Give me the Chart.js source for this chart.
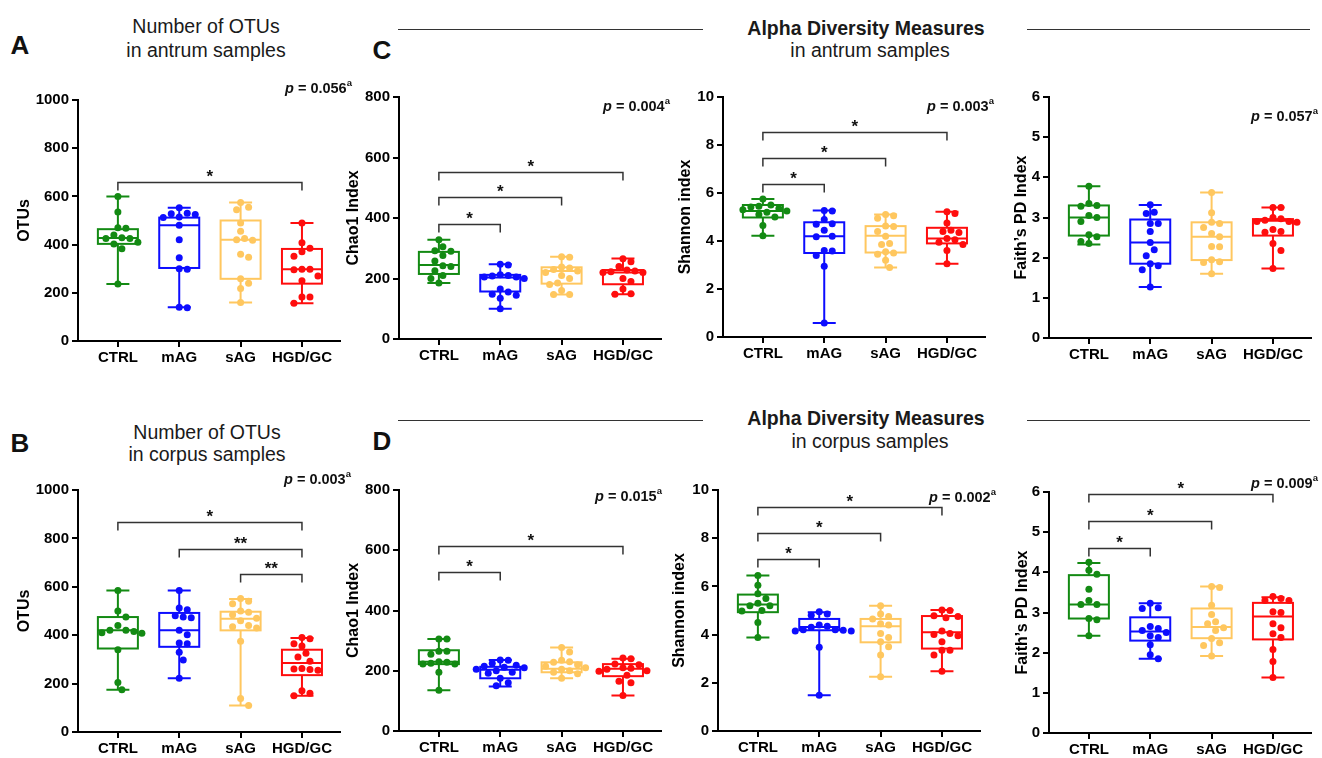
<!DOCTYPE html>
<html>
<head>
<meta charset="utf-8">
<script src="https://cdn.jsdelivr.net/npm/chart.js@4.4.1/dist/chart.umd.min.js"></script>
<style>
  body { margin: 0; background: #fff; width: 1322px; height: 758px; position: relative; overflow: hidden;
         font-family: "Liberation Sans", Arial, sans-serif; color: #1a1a1a; }
  canvas { position: absolute; }
  .t { position: absolute; transform: translate(-50%, -50%); white-space: nowrap; }
  .ttl { font-size: 19.5px; }
  .hdr { font-size: 19.5px; font-weight: bold; }
  .let { font-size: 26px; font-weight: bold; color: #111; }
  .pv { position: absolute; transform: translateY(-50%); font-size: 14.5px; font-weight: bold; color: #111; white-space: nowrap; }
  .pv sup { font-size: 9.5px; position: relative; top: -1px; }
  .rule { position: absolute; height: 1px; background: #333; }
</style>
</head>
<body>
<script>
var FONT = '"Liberation Sans", Arial, sans-serif';

var groups = ['CTRL', 'mAG', 'sAG', 'HGD/GC'];
var groupColors = ['#138a13', '#0d0dff', '#ffc75f', '#ff0d0d'];

// box stats per group: min, q1, median, q3, max

// number of OTUs - antrum
var otuAntrumPts = [
  [600, 535, 470, 468, 440, 428, 425, 425, 410, 402, 383, 237],
  [553, 530, 528, 525, 515, 512, 480, 420, 345, 300, 298, 140, 138],
  [575, 555, 545, 490, 455, 425, 420, 418, 360, 348, 258, 240, 218, 160],
  [490, 408, 385, 370, 352, 298, 298, 296, 270, 250, 183, 183, 157]
];
var otuAntrumBox = [[237, 403, 427, 464, 600], [140, 303, 480, 512, 553], [160, 258, 420, 500, 575], [157, 238, 298, 382, 490]];
var otuAntrumSig = [[0, 3, 660, '*']];

// Chao1 - antrum
var chaoAntrumPts = [
  [328, 305, 292, 290, 276, 258, 242, 240, 226, 210, 200, 185],
  [247, 245, 212, 210, 208, 205, 205, 200, 165, 155, 148, 145, 135, 100],
  [272, 270, 238, 235, 230, 225, 220, 210, 200, 185, 180, 160, 147, 147],
  [265, 255, 240, 228, 225, 222, 220, 220, 200, 190, 165, 150, 148]
];
var chaoAntrumBox = [[185, 215, 245, 288, 328], [100, 157, 203, 212, 247], [147, 183, 225, 237, 272], [148, 181, 220, 228, 266]];
var chaoAntrumSig = [[0, 1, 380, '*'], [0, 2, 470, '*'], [0, 3, 553, '*']];

// Shannon - antrum
var shanAntrumPts = [
  [5.75, 5.5, 5.45, 5.42, 5.35, 5.3, 5.25, 5.2, 5.1, 5.0, 4.65, 4.22],
  [5.27, 5.25, 4.9, 4.72, 4.7, 4.45, 4.2, 4.18, 3.6, 3.58, 3.4, 2.95, 0.58],
  [5.1, 5.05, 4.95, 4.62, 4.6, 4.4, 4.2, 3.9, 3.85, 3.55, 3.5, 3.45, 3.2, 2.9],
  [5.22, 5.15, 4.75, 4.45, 4.4, 4.35, 4.1, 4.05, 3.95, 3.85, 3.6, 3.05]
];
var shanAntrumBox = [[4.22, 4.98, 5.25, 5.5, 5.75], [0.58, 3.5, 4.2, 4.78, 5.27], [2.9, 3.52, 4.22, 4.62, 5.1], [3.05, 3.9, 4.1, 4.55, 5.22]];
var shanAntrumSig = [[0, 1, 6.38, '*'], [0, 2, 7.45, '*'], [0, 3, 8.55, '*']];

// Faith's PD - antrum
var faithAntrumPts = [
  [3.78, 3.35, 3.3, 3.28, 3.05, 3.0, 2.9, 2.57, 2.52, 2.4, 2.35],
  [3.32, 3.13, 3.1, 2.85, 2.85, 2.65, 2.38, 2.2, 2.05, 1.85, 1.8, 1.7, 1.27],
  [3.62, 3.12, 2.88, 2.85, 2.75, 2.6, 2.52, 2.28, 2.27, 1.95, 1.9, 1.88, 1.6],
  [3.25, 3.25, 3.0, 2.97, 2.93, 2.9, 2.9, 2.88, 2.7, 2.65, 2.63, 2.35, 2.18, 1.73]
];
var faithAntrumBox = [[2.33, 2.55, 3.0, 3.3, 3.78], [1.27, 1.85, 2.38, 2.95, 3.31], [1.6, 1.94, 2.52, 2.88, 3.62], [1.73, 2.55, 2.92, 2.96, 3.25]];
var faithAntrumSig = [];

// number of OTUs - corpus
var otuCorpusPts = [
  [585, 500, 475, 440, 420, 420, 415, 410, 408, 340, 205, 175],
  [585, 512, 505, 480, 475, 472, 420, 402, 368, 365, 330, 298, 222],
  [552, 540, 530, 500, 495, 485, 470, 460, 440, 435, 430, 375, 138, 110],
  [390, 385, 365, 355, 325, 310, 292, 262, 260, 258, 255, 170, 160, 150]
];
var otuCorpusBox = [[175, 345, 420, 475, 585], [222, 352, 420, 492, 585], [110, 420, 468, 497, 550], [150, 235, 285, 340, 388]];
var otuCorpusSig = [[0, 3, 866, '*'], [1, 3, 755, '**'], [2, 3, 652, '**']];

// Chao1 - corpus
var chaoCorpusPts = [
  [305, 305, 265, 265, 255, 230, 228, 225, 222, 222, 195, 135],
  [236, 235, 225, 218, 215, 212, 210, 205, 200, 195, 192, 175, 160, 150],
  [277, 262, 235, 230, 228, 220, 215, 210, 205, 200, 195, 190, 175],
  [242, 240, 222, 220, 210, 208, 205, 200, 198, 185, 165, 160, 118]
];
var chaoCorpusBox = [[135, 222, 230, 268, 305], [148, 175, 203, 213, 236], [175, 195, 207, 228, 277], [118, 182, 207, 222, 240]];
var chaoCorpusSig = [[0, 1, 529, '*'], [0, 3, 614, '*']];

// Shannon - corpus
var shanCorpusPts = [
  [6.45, 6.05, 5.7, 5.5, 5.3, 5.2, 5.2, 5.0, 4.98, 4.5, 3.88],
  [4.95, 4.85, 4.8, 4.4, 4.35, 4.3, 4.2, 4.2, 4.18, 4.15, 4.15, 3.48, 1.48],
  [5.2, 4.85, 4.75, 4.65, 4.45, 4.4, 4.05, 3.88, 3.7, 3.5, 3.15, 2.25],
  [5.02, 5.0, 4.78, 4.75, 4.7, 4.15, 4.05, 4.0, 3.95, 3.7, 3.35, 3.35, 3.15, 2.48]
];
var shanCorpusBox = [[3.88, 4.93, 5.25, 5.66, 6.45], [1.48, 4.18, 4.32, 4.65, 4.93], [2.25, 3.68, 4.35, 4.65, 5.2], [2.48, 3.42, 4.1, 4.77, 5.02]];
var shanCorpusSig = [[0, 1, 7.12, '*'], [0, 2, 8.2, '*'], [0, 3, 9.28, '*']];

// Faith's PD - corpus
var faithCorpusPts = [
  [4.25, 4.05, 3.95, 3.58, 3.3, 3.2, 3.2, 2.85, 2.82, 2.42],
  [3.23, 3.12, 3.1, 2.65, 2.6, 2.55, 2.5, 2.42, 2.38, 2.2, 1.95, 1.85],
  [3.65, 3.62, 3.18, 2.95, 2.77, 2.72, 2.62, 2.55, 2.35, 2.25, 2.18, 1.92],
  [3.4, 3.35, 3.3, 3.3, 3.02, 3.0, 2.72, 2.62, 2.47, 2.38, 2.08, 1.78, 1.38]
];
var faithCorpusBox = [[2.42, 2.85, 3.2, 3.93, 4.23], [1.85, 2.3, 2.53, 2.88, 3.23], [1.92, 2.36, 2.64, 3.1, 3.65], [1.38, 2.33, 2.9, 3.24, 3.38]];
var faithCorpusSig = [[0, 1, 4.6, '*'], [0, 2, 5.28, '*'], [0, 3, 5.94, '*']];

var X_MIN = -0.65, X_MAX = 3.62;

// simple beeswarm: horizontal pixel offsets so dots don't overlap
function swarm(vals, pxY, diam) {
  var placed = [], offs = [];
  var order = vals.map(function (v, i) { return i; }).sort(function (a, b) { return vals[b] - vals[a]; });
  order.forEach(function (i) {
    var y = vals[i] * pxY, best = 0;
    for (var k = 0; k < 40; k++) {
      var c = k === 0 ? 0 : (k % 2 ? 1 : -1) * Math.ceil(k / 2) * diam / 2;
      var ok = placed.every(function (p) { return Math.hypot(p.x - c, p.y - y) >= diam; });
      if (ok) { best = c; break; }
    }
    placed.push({ x: best, y: y });
    offs[i] = best;
  });
  return offs;
}

function drawPanel(geo, pts, box, sig, yMax, yStep, yTitle) {
  var padTop = 15, padRight = 4, xHeight = 32;
  var cl = Math.round(geo.titleX - 13.6);
  var ct = geo.top - padTop;
  var cv = document.createElement('canvas');
  cv.width = geo.right + padRight - cl;
  cv.height = geo.bottom + xHeight - ct;
  cv.style.left = cl + 'px';
  cv.style.top = ct + 'px';
  document.body.appendChild(cv);

  var pxX = (geo.right - geo.axisX) / (X_MAX - X_MIN);
  var pxY = (geo.bottom - geo.top) / yMax;

  var datasets = pts.map(function (vals, gi) {
    var offs = swarm(vals, pxY, 8);
    return {
      data: vals.map(function (v, i) { return { x: gi + offs[i] / pxX, y: v }; }),
      backgroundColor: groupColors[gi],
      borderWidth: 0,
      pointRadius: 3.5,
      pointHoverRadius: 3.5
    };
  });

  var boxPlugin = {
    id: 'boxes',
    beforeDatasetsDraw: function (chart) {
      var ctx = chart.ctx, xs = chart.scales.x, ys = chart.scales.y;
      ctx.save();
      ctx.lineWidth = 2;
      box.forEach(function (b, gi) {
        var cx = xs.getPixelForValue(gi);
        var p = b.map(function (v) { return ys.getPixelForValue(v); });
        ctx.strokeStyle = groupColors[gi];
        ctx.beginPath();
        ctx.moveTo(cx, p[4]); ctx.lineTo(cx, p[3]);
        ctx.moveTo(cx, p[1]); ctx.lineTo(cx, p[0]);
        ctx.moveTo(cx - 11.5, p[4]); ctx.lineTo(cx + 11.5, p[4]);
        ctx.moveTo(cx - 11.5, p[0]); ctx.lineTo(cx + 11.5, p[0]);
        ctx.moveTo(cx - 20, p[2]); ctx.lineTo(cx + 20, p[2]);
        ctx.stroke();
        ctx.strokeRect(cx - 20, p[3], 40, p[1] - p[3]);
      });
      ctx.restore();
    },
    afterDraw: function (chart) {
      var ctx = chart.ctx, xs = chart.scales.x, ys = chart.scales.y;
      ctx.save();
      ctx.strokeStyle = '#333';
      ctx.lineWidth = 1.5;
      ctx.fillStyle = '#111';
      ctx.font = 'bold 17px ' + FONT;
      ctx.textAlign = 'center';
      ctx.textBaseline = 'alphabetic';
      sig.forEach(function (s) {
        var x1 = xs.getPixelForValue(s[0]), x2 = xs.getPixelForValue(s[1]);
        var y = Math.round(ys.getPixelForValue(s[2])) + 0.5;
        ctx.beginPath();
        ctx.moveTo(x1, y + 8); ctx.lineTo(x1, y); ctx.lineTo(x2, y); ctx.lineTo(x2, y + 8);
        ctx.stroke();
        ctx.fillText(s[3], (x1 + x2) / 2, y - 1);
      });
      ctx.restore();
    }
  };

  var tickFont = { size: 15, weight: 'bold', family: FONT };
  new Chart(cv, {
    type: 'scatter',
    data: { datasets: datasets },
    options: {
      responsive: false,
      animation: false,
      layout: { padding: { top: padTop, right: padRight, left: 0, bottom: 0 } },
      plugins: { legend: { display: false }, tooltip: { enabled: false } },
      scales: {
        x: {
          type: 'linear', min: X_MIN, max: X_MAX,
          afterBuildTicks: function (s) { s.ticks = groups.map(function (n, i) { return { value: i }; }); },
          afterFit: function (s) { s.height = xHeight; },
          ticks: { callback: function (v) { return groups[v]; }, color: '#000', font: tickFont, padding: 2, maxRotation: 0, autoSkip: false },
          grid: { drawOnChartArea: false, color: '#000', lineWidth: 2, tickLength: 6 },
          border: { color: '#000', width: 2 }
        },
        y: {
          min: 0, max: yMax,
          afterFit: function (s) { s.width = geo.axisX - cl; },
          ticks: { stepSize: yStep, callback: function (v) { return String(v); }, color: '#000', font: tickFont, padding: 3 },
          grid: { drawOnChartArea: false, color: '#000', lineWidth: 2, tickLength: 6 },
          border: { color: '#000', width: 2 },
          title: { display: true, text: yTitle, color: '#000', font: { size: 16, weight: 'bold', family: FONT }, padding: { top: 4, bottom: 4 } }
        }
      }
    },
    plugins: [boxPlugin]
  });
}

function addText(cls, html, x, y) {
  var d = document.createElement('div');
  d.className = cls;
  d.innerHTML = html;
  d.style.left = x + 'px';
  d.style.top = y + 'px';
  document.body.appendChild(d);
}
function addRule(x1, x2, y) {
  var d = document.createElement('div');
  d.className = 'rule';
  d.style.left = x1 + 'px';
  d.style.top = y + 'px';
  d.style.width = (x2 - x1) + 'px';
  document.body.appendChild(d);
}
function pval(txt, x, y) {
  addText('pv', '<i>p</i> = ' + txt + '<sup>a</sup>', x, y);
}

// headings
addText('t let', 'A', 20, 45);
addText('t let', 'B', 20, 443);
addText('t let', 'C', 382, 50);
addText('t let', 'D', 382, 441);
addText('t ttl', 'Number of OTUs', 206, 26);
addText('t ttl', 'in antrum samples', 206, 50);
addText('t ttl', 'Number of OTUs', 207, 432);
addText('t ttl', 'in corpus samples', 207, 454);
addText('t hdr', 'Alpha Diversity Measures', 866, 28);
addText('t ttl', 'in antrum samples', 870, 50);
addText('t hdr', 'Alpha Diversity Measures', 866, 418);
addText('t ttl', 'in corpus samples', 870, 441);
addRule(398, 703, 29); addRule(1027, 1310, 29);
addRule(398, 703, 420); addRule(1027, 1310, 420);

drawPanel({ axisX: 78, top: 100, bottom: 341, right: 340, titleX: 25 }, otuAntrumPts, otuAntrumBox, otuAntrumSig, 1000, 200, 'OTUs');
drawPanel({ axisX: 399, top: 97, bottom: 339, right: 661, titleX: 354 }, chaoAntrumPts, chaoAntrumBox, chaoAntrumSig, 800, 200, 'Chao1 Index');
drawPanel({ axisX: 723, top: 97, bottom: 337, right: 985, titleX: 686 }, shanAntrumPts, shanAntrumBox, shanAntrumSig, 10, 2, 'Shannon index');
drawPanel({ axisX: 1049, top: 97, bottom: 338, right: 1311, titleX: 1022 }, faithAntrumPts, faithAntrumBox, faithAntrumSig, 6, 1, 'Faith\u2019s PD Index');
drawPanel({ axisX: 78, top: 490, bottom: 732, right: 340, titleX: 25 }, otuCorpusPts, otuCorpusBox, otuCorpusSig, 1000, 200, 'OTUs');
drawPanel({ axisX: 399, top: 490, bottom: 731, right: 661, titleX: 354 }, chaoCorpusPts, chaoCorpusBox, chaoCorpusSig, 800, 200, 'Chao1 Index');
drawPanel({ axisX: 718, top: 490, bottom: 731, right: 980, titleX: 680 }, shanCorpusPts, shanCorpusBox, shanCorpusSig, 10, 2, 'Shannon index');
drawPanel({ axisX: 1049, top: 492, bottom: 733, right: 1311, titleX: 1023 }, faithCorpusPts, faithCorpusBox, faithCorpusSig, 6, 1, 'Faith\u2019s PD Index');

pval('0.056', 285, 87);
pval('0.004', 603, 105);
pval('0.003', 927, 105);
pval('0.057', 1251, 115);
pval('0.003', 284, 478);
pval('0.015', 595, 495);
pval('0.002', 929, 496);
pval('0.009', 1251, 482);
</script>
</body>
</html>
